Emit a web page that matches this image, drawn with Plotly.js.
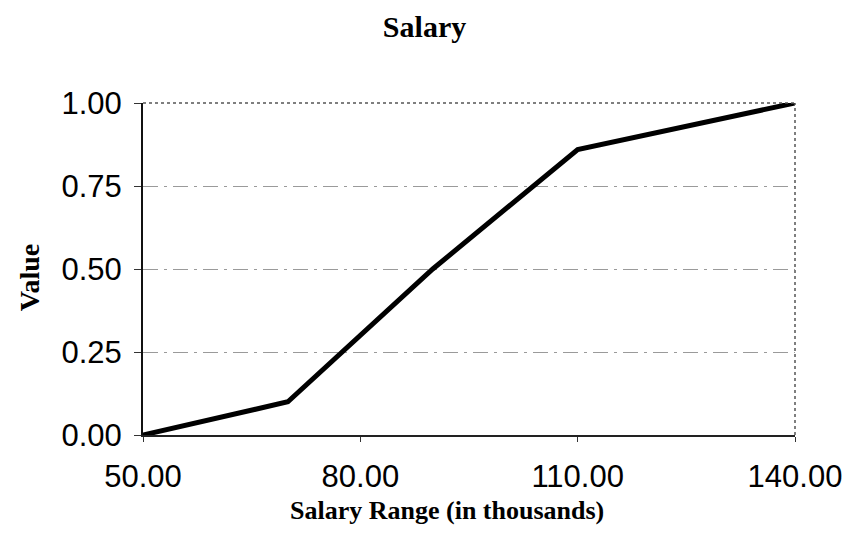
<!DOCTYPE html>
<html>
<head>
<meta charset="utf-8">
<script src="https://cdn.plot.ly/plotly-3.0.1.min.js"></script>
<style>
  html, body { margin: 0; padding: 0; background: #ffffff; }
  #chart { width: 844px; height: 554px; }
</style>
</head>
<body>
<div id="chart"></div>
<script>
const salaryRange = [50, 70, 90, 110, 140];
const values = [0, 0.1, 0.5, 0.86, 1.0];
const xTicks = [50, 80, 110, 140];
const yTicks = [0, 0.25, 0.5, 0.75, 1.0];

const trace = {
  x: salaryRange,
  y: values,
  type: 'scatter',
  mode: 'lines',
  line: { color: '#000000', width: 5 },
  hoverinfo: 'skip'
};

const serif = 'Liberation Serif, Times New Roman, serif';
const sans = 'Liberation Sans, Arial, sans-serif';

const layout = {
  title: { text: '<b>Salary</b>', font: { family: serif, size: 30, color: '#000' }, x: 0.503, xanchor: 'center', y: 0.952, yanchor: 'middle' },
  xaxis: {
    range: [50, 140],
    tickvals: xTicks,
    ticktext: xTicks.map(v => v.toFixed(2)),
    tickfont: { family: sans, size: 31, color: '#000' },
    ticks: 'outside', ticklen: 5, tickcolor: '#333',
    ticklabelstandoff: 8,
    showline: true, linecolor: '#222', linewidth: 1.5, mirror: false,
    showgrid: false, zeroline: false
  },
  yaxis: {
    range: [0, 1],
    tickvals: yTicks,
    ticktext: yTicks.map(v => v.toFixed(2)),
    tickfont: { family: sans, size: 31, color: '#000' },
    ticks: 'outside', ticklen: 7, tickcolor: '#333',
    ticklabelstandoff: 6,
    showline: true, linecolor: '#111', linewidth: 2,
    showgrid: true, gridcolor: '#9a9a9a', gridwidth: 1, griddash: 'longdashdot',
    zeroline: false
  },
  annotations: [
    {
      text: '<b>Salary Range (in thousands)</b>', xref: 'paper', yref: 'paper',
      x: 0.466, y: -0.226, xanchor: 'center', yanchor: 'middle', showarrow: false,
      font: { family: serif, size: 26, color: '#000' }
    },
    {
      text: '<b>Value</b>', xref: 'paper', yref: 'paper', textangle: -90,
      x: -0.173, y: 0.473, xanchor: 'center', yanchor: 'middle', showarrow: false,
      font: { family: serif, size: 28, color: '#000' }
    }
  ],
  shapes: [
    { type: 'line', xref: 'paper', yref: 'paper', x0: 0, x1: 1, y0: 1, y1: 1, line: { color: '#555', width: 1.5, dash: 'dot' } },
    { type: 'line', xref: 'paper', yref: 'paper', x0: 1, x1: 1, y0: 0, y1: 1, line: { color: '#555', width: 1.5, dash: 'dot' } }
  ],
  plot_bgcolor: '#ffffff',
  paper_bgcolor: '#ffffff',
  showlegend: false,
  margin: { t: 103, b: 119, l: 143, r: 49 }
};

Plotly.newPlot('chart', [trace], layout, { staticPlot: true, displayModeBar: false });
</script>
</body>
</html>
